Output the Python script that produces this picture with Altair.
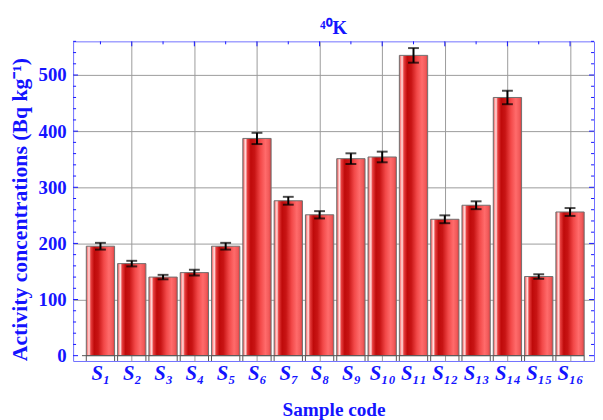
import altair as alt
import pandas as pd

# ---------------- data ----------------
codes = ["S₁", "S₂", "S₃", "S₄", "S₅", "S₆", "S₇", "S₈",
         "S₉", "S₁₀", "S₁₁", "S₁₂", "S₁₃", "S₁₄", "S₁₅", "S₁₆"]
values = [195, 164, 140, 148, 195, 387, 276, 251, 351, 354, 535, 243, 268, 460, 141, 256]
errors = [6, 5, 4, 5, 6, 10, 7, 6.5, 9.5, 9.5, 13, 7, 7, 12, 4, 7]
y_labels = [0, 100, 200, 300, 400, 500]
y_minor = [v for v in range(0, 561, 20) if v % 100 != 0]

idx = list(range(1, len(codes) + 1))
df = pd.DataFrame({"idx": idx, "code": codes, "value": values, "err": errors})
df["lo"] = df["value"] - df["err"]
df["hi"] = df["value"] + df["err"]

# ---------------- style ----------------
W, H = 528, 324
BLUE = "#1414ff"
FRAME = "#7070ff"
FONT = "Liberation Serif"
HALF = 0.452
XT = "Sample code"
YT = "Activity concentrations (Bq kg⁻¹)"
xs = alt.Scale(domain=[0.127, 16.766], nice=False, zero=False)
ys = alt.Scale(domain=[-9.5, 560], nice=False, zero=False)

grad = {
    "gradient": "linear", "x1": 0, "x2": 1, "y1": 0, "y2": 0,
    "stops": [
        {"offset": 0.0, "color": "#d84848"},
        {"offset": 0.05, "color": "#ff9a9a"},
        {"offset": 0.10, "color": "#ffe0e0"},
        {"offset": 0.16, "color": "#e84040"},
        {"offset": 0.28, "color": "#bf0a0a"},
        {"offset": 0.42, "color": "#c81414"},
        {"offset": 0.62, "color": "#f24848"},
        {"offset": 0.80, "color": "#ff6b6b"},
        {"offset": 0.92, "color": "#f25a5a"},
        {"offset": 1.0, "color": "#d84040"},
    ],
}

label_expr = "[" + ",".join("'" + c + "'" for c in codes) + "][datum.value - 1]"

xa = alt.Axis(
    values=idx, labelExpr=label_expr, grid=True, gridColor="#9a9a9a",
    gridOpacity={"condition": {"test": "datum.value % 2 === 0", "value": 1}, "value": 0},
    ticks=False, domain=False, labelOverlap=False, labelFlush=False,
    labelFont=FONT, labelFontSize=21, labelFontStyle="italic", labelFontWeight="bold",
    labelColor=BLUE, labelPadding=2,
    titleFont=FONT, titleFontSize=19.5, titleFontWeight="bold",
    titleColor=BLUE, titlePadding=17)
ya = alt.Axis(
    values=y_labels, grid=True, gridColor="#9a9a9a",
    gridOpacity={"condition": {"test": "datum.value === 0", "value": 0}, "value": 1},
    ticks=False, domain=False,
    labelFont=FONT, labelFontSize=19, labelFontWeight="bold", labelColor=BLUE,
    labelPadding=7,
    titleFont=FONT, titleFontSize=22, titleY=170,
    titleFontWeight="bold", titleColor=BLUE, titlePadding=7)


def X(f):
    return alt.X(f, scale=xs, axis=xa, title=XT)


def Y(f):
    return alt.Y(f, scale=ys, axis=ya, title=YT)


base = alt.Chart(df)

bars = base.transform_calculate(
    x0="datum.idx - " + str(HALF), x1="datum.idx + " + str(HALF)
).mark_bar(fill=grad, stroke="#707070", strokeWidth=1).encode(
    x=X("x0:Q"), x2="x1:Q", y=Y("value:Q"), y2=alt.datum(0),
)

# baseline under bars
bl = pd.DataFrame({"a": [idx[0] - 0.59], "b": [idx[-1] + HALF], "y": [0]})
baseline = alt.Chart(bl).mark_rule(color="#555555", strokeWidth=1).encode(
    x=X("a:Q"), x2="b:Q", y=Y("y:Q"))

# bar edge lines below baseline
edges = pd.DataFrame({"e": [i - HALF for i in idx] + [i + HALF for i in idx],
                      "y0": 0, "y1": -9.5})
edge_rules = alt.Chart(edges).mark_rule(color="#555555", strokeWidth=1).encode(
    x=X("e:Q"), y=Y("y0:Q"), y2="y1:Q")

# error bars
err_rule = base.mark_rule(color="black", strokeWidth=2).encode(
    x=X("idx:Q"), y=Y("lo:Q"), y2="hi:Q")
cap_lo = base.mark_tick(color="black", thickness=2, size=11, orient="horizontal").encode(
    x=X("idx:Q"), y=Y("lo:Q"))
cap_hi = base.mark_tick(color="black", thickness=2, size=11, orient="horizontal").encode(
    x=X("idx:Q"), y=Y("hi:Q"))

# inward frame ticks
ymaj = pd.DataFrame({"v": y_labels})
ymin = pd.DataFrame({"v": y_minor})
left_major = alt.Chart(ymaj).mark_rule(color=BLUE, strokeWidth=1).encode(
    y=Y("v:Q"), x=alt.value(0), x2=alt.value(5))
left_minor = alt.Chart(ymin).mark_rule(color=BLUE, strokeWidth=1).encode(
    y=Y("v:Q"), x=alt.value(0), x2=alt.value(3))
right_major = alt.Chart(ymaj).mark_rule(color=BLUE, strokeWidth=1).encode(
    y=Y("v:Q"), x=alt.value(W), x2=alt.value(W - 5))
right_minor = alt.Chart(ymin).mark_rule(color=BLUE, strokeWidth=1).encode(
    y=Y("v:Q"), x=alt.value(W), x2=alt.value(W - 3))
tx = pd.DataFrame({"t": idx})
top_major = alt.Chart(tx).transform_filter("datum.t % 2 === 0").mark_rule(
    color=BLUE, strokeWidth=1).encode(
    x=X("t:Q"), y=alt.value(0), y2=alt.value(5))
top_minor = alt.Chart(tx).transform_filter("datum.t % 2 === 1").mark_rule(
    color=BLUE, strokeWidth=1).encode(
    x=X("t:Q"), y=alt.value(0), y2=alt.value(3))

chart = alt.layer(
    bars, baseline, edge_rules, err_rule, cap_lo, cap_hi,
    left_major, left_minor, right_major, right_minor, top_major, top_minor,
).properties(
    width=W, height=H,
    title=alt.TitleParams("⁴⁰K", font=FONT, fontSize=19, fontWeight="bold",
                          color=BLUE, offset=3, anchor="middle"),
    padding={"left": 66, "top": 31, "right": 1, "bottom": 57},
    autosize=alt.AutoSizeParams(type="none"),
).configure_view(stroke=FRAME, strokeWidth=1).configure_axis(
    labelFont=FONT, titleFont=FONT, labelFontWeight="bold", titleFontWeight="bold"
)

chart.save("out.html", embed_options={"renderer": "svg", "actions": False})
